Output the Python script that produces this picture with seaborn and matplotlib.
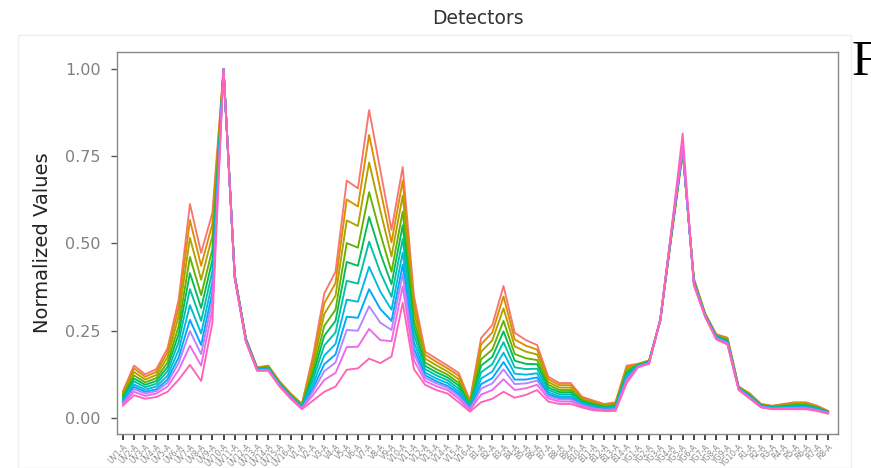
import numpy as np
import pandas as pd
import matplotlib
matplotlib.use("Agg")
import matplotlib.pyplot as plt
import seaborn as sns
from matplotlib.patches import Rectangle

sns.set_style("white")
plt.rcParams['font.family'] = ['DejaVu Sans']

# detector channels (Aurora 5L layout)
detectors = ([f"UV{i}-A" for i in range(1, 17)] + [f"V{i}-A" for i in range(1, 17)]
             + [f"B{i}-A" for i in range(1, 15)] + [f"YG{i}-A" for i in range(1, 11)]
             + [f"R{i}-A" for i in range(1, 9)])

s1 = [.075, .150, .125, .140, .200, .340, .613, .473, .587, 1.0,
      .410, .228, .145, .150, .105, .070, .040, .180, .357, .419,
      .680, .658, .882, .710, .539, .719, .350, .190, .170, .150,
      .129, .050, .229, .266, .378, .244, .223, .209, .118, .100,
      .100, .061, .050, .040, .045, .150, .155, .165, .280, .520,
      .760, .400, .300, .240, .230, .090, .070, .040, .035, .040,
      .045, .045, .035, .020]
s2 = [.071, .142, .118, .132, .188, .317, .567, .436, .556, 1.0,
      .409, .227, .144, .149, .104, .069, .039, .167, .329, .386,
      .626, .606, .811, .655, .503, .680, .329, .181, .161, .142,
      .121, .047, .211, .245, .348, .225, .207, .196, .111, .094,
      .094, .058, .047, .038, .043, .145, .154, .164, .280, .522,
      .762, .398, .299, .238, .228, .089, .069, .039, .034, .039,
      .043, .043, .034, .019]
s3 = [.067, .132, .110, .123, .174, .292, .516, .396, .521, 1.0,
      .408, .226, .143, .147, .102, .067, .037, .153, .298, .350,
      .566, .550, .732, .594, .463, .637, .306, .170, .151, .133,
      .111, .043, .190, .222, .314, .205, .190, .182, .103, .087,
      .087, .054, .044, .036, .040, .140, .153, .163, .280, .524,
      .764, .396, .298, .237, .226, .088, .067, .038, .033, .037,
      .041, .041, .032, .018]
s4 = [.062, .122, .102, .114, .159, .264, .461, .352, .483, 1.0,
      .407, .225, .142, .145, .100, .065, .035, .137, .264, .310,
      .501, .488, .647, .528, .419, .591, .281, .159, .140, .124,
      .101, .039, .168, .196, .278, .183, .171, .166, .095, .080,
      .080, .051, .041, .033, .037, .134, .152, .162, .280, .526,
      .766, .393, .297, .235, .223, .087, .065, .037, .032, .035,
      .038, .038, .030, .017]
s5 = [.058, .113, .095, .106, .146, .241, .415, .315, .452, 1.0,
      .406, .224, .141, .144, .099, .064, .034, .124, .236, .278,
      .447, .436, .576, .472, .383, .552, .260, .149, .131, .116,
      .093, .036, .150, .175, .248, .164, .155, .154, .087, .074,
      .074, .048, .038, .031, .034, .129, .151, .161, .280, .528,
      .768, .391, .296, .234, .221, .086, .064, .036, .031, .034,
      .036, .036, .029, .017]
s6 = [.054, .105, .088, .098, .134, .218, .369, .278, .420, 1.0,
      .405, .223, .140, .142, .097, .062, .032, .111, .208, .245,
      .393, .385, .505, .417, .347, .513, .239, .140, .122, .108,
      .084, .033, .131, .154, .217, .145, .140, .141, .080, .068,
      .068, .045, .035, .029, .032, .124, .150, .160, .280, .530,
      .770, .389, .295, .232, .219, .085, .062, .035, .030, .032,
      .034, .034, .027, .016]
s7 = [.050, .096, .081, .090, .121, .195, .323, .242, .389, 1.0,
      .404, .222, .139, .141, .096, .061, .031, .098, .179, .212,
      .339, .333, .433, .362, .310, .474, .218, .130, .113, .100,
      .076, .030, .113, .133, .187, .127, .124, .128, .073, .062,
      .062, .041, .032, .027, .029, .119, .149, .159, .280, .532,
      .772, .387, .294, .231, .217, .084, .061, .034, .029, .031,
      .032, .032, .026, .015]
s8 = [.046, .089, .075, .082, .110, .174, .281, .209, .360, 1.0,
      .403, .221, .138, .139, .094, .059, .029, .086, .154, .182,
      .290, .287, .369, .312, .278, .439, .199, .122, .105, .092,
      .069, .027, .097, .114, .160, .110, .110, .116, .067, .057,
      .057, .039, .030, .026, .027, .114, .148, .158, .280, .534,
      .774, .386, .293, .229, .216, .083, .059, .033, .028, .029,
      .031, .031, .024, .014]
s9 = [.043, .083, .070, .077, .101, .158, .249, .183, .338, 1.0,
      .402, .220, .137, .138, .093, .058, .028, .077, .134, .159,
      .252, .250, .320, .273, .252, .412, .184, .115, .099, .087,
      .063, .025, .084, .099, .139, .097, .099, .107, .062, .053,
      .053, .037, .028, .024, .025, .110, .147, .157, .280, .536,
      .776, .384, .292, .228, .214, .082, .058, .032, .027, .028,
      .029, .029, .023, .014]
s10 = [.040, .075, .063, .070, .090, .138, .207, .150, .310, 1.0,
       .401, .219, .136, .137, .092, .057, .027, .066, .109, .129,
       .203, .204, .255, .223, .220, .377, .165, .106, .091, .080,
       .055, .022, .067, .080, .111, .080, .085, .095, .056, .047,
       .047, .034, .025, .022, .023, .106, .146, .156, .280, .538,
       .780, .382, .291, .227, .212, .081, .057, .031, .026, .027,
       .027, .027, .022, .013]
s11 = [.035, .065, .055, .060, .075, .110, .152, .106, .272, 1.0,
       .400, .218, .135, .135, .090, .055, .025, .050, .075, .090,
       .138, .142, .170, .157, .176, .330, .140, .095, .080, .070,
       .045, .018, .045, .055, .075, .058, .066, .080, .047, .040,
       .040, .030, .022, .020, .020, .100, .145, .155, .285, .540,
       .815, .380, .290, .225, .210, .080, .055, .030, .025, .025,
       .025, .025, .020, .012]

series = [s1, s2, s3, s4, s5, s6, s7, s8, s9, s10, s11]
names = [f"S{i + 1}" for i in range(len(series))]

# ggplot2 default hue palette, 11 levels
hue_colors = ["#F8766D", "#DB8E00", "#AEA200", "#64B200", "#00BD5C", "#00C1A7",
              "#00BADE", "#00A6FF", "#B385FF", "#EF67EB", "#FF63B6"]

rows = []
for name, vals in zip(names, series):
    for det, v in zip(detectors, vals):
        rows.append({"Detector": det, "Value": v, "Sample": name})
df = pd.DataFrame(rows)

W, H = 871, 468
fig = plt.figure(figsize=(W / 100, H / 100), dpi=100)
ax = fig.add_axes([116.7 / W, 1 - 434 / H, (838 - 116.7) / W, (434 - 51.5) / H])

sns.lineplot(data=df, x="Detector", y="Value", hue="Sample", palette=hue_colors,
             hue_order=names, sort=False, estimator=None, legend=False,
             linewidth=1.35, ax=ax)

ax.set_xlim(-0.54, 63.87)
ax.set_ylim(-0.046, 1.05)
ax.set_yticks([0, 0.25, 0.5, 0.75, 1.0])
ax.set_yticklabels(["0.00", "0.25", "0.50", "0.75", "1.00"], fontsize=11.5, color="#808080")
ax.set_xticks(range(len(detectors)))
ax.set_xticklabels(detectors, rotation=45, ha="right", rotation_mode="anchor",
                   fontsize=5.5, color="#8a8a8a")
ax.tick_params(axis="y", length=4.5, width=1, color="#555555", left=True, pad=7)
ax.tick_params(axis="x", length=4, width=1.3, color="#333333", bottom=True, pad=2)
ax.set_xlabel("")
ax.set_ylabel("Normalized Values", fontsize=14,
              family=["Liberation Sans Narrow", "DejaVu Sans"], color="#222222")
ax.yaxis.set_label_coords(-0.0897, 0.5)
for sp in ax.spines.values():
    sp.set_color("#888888")
    sp.set_linewidth(1)

fig.text(478 / W, 1 - 18 / H, "Detectors", ha="center", va="center",
         fontsize=13.5, color="#333333")
fig.text(852 / W, 1 - 75 / H, "F", fontsize=36, family="Liberation Serif",
         va="baseline", ha="left", color="black")
fig.patches.append(Rectangle((18 / W, 0), (851 - 18) / W, 1 - 35 / H,
                             transform=fig.transFigure, fill=False,
                             edgecolor="#eeeeee", linewidth=1))

fig.savefig("out.png", dpi=100)
